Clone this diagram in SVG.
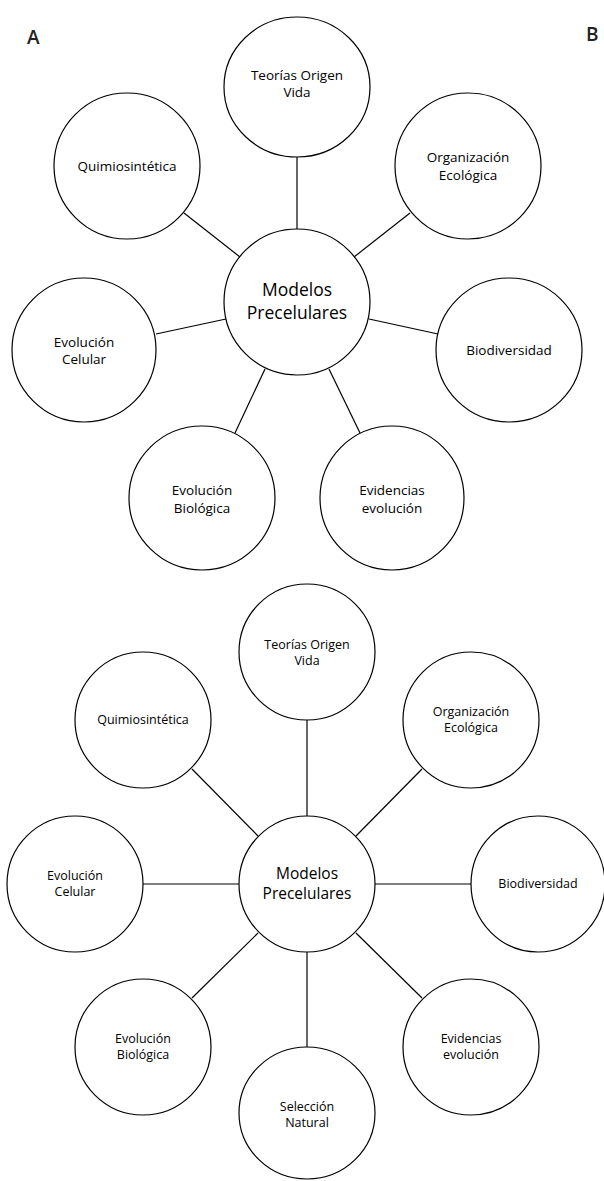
<svg xmlns="http://www.w3.org/2000/svg" width="604" height="1181" viewBox="0 0 604 1181">
  <style>
    .node ellipse { fill: #fff; stroke: #000; stroke-width: 1.2; }
    .lbl { font-family: "Open Sans", "Liberation Sans", sans-serif; font-size: 13.5px; fill: #000; text-anchor: middle; }
    .lblb { font-family: "Open Sans", "Liberation Sans", sans-serif; font-size: 12.5px; fill: #000; text-anchor: middle; }
    .hub { font-family: "Open Sans", "Liberation Sans", sans-serif; font-size: 17.5px; fill: #000; text-anchor: middle; }
    .hubb { font-family: "Open Sans", "Liberation Sans", sans-serif; font-size: 15.5px; fill: #000; text-anchor: middle; }
    .tag { font-family: "Open Sans", "Liberation Sans", sans-serif; font-size: 19px; font-weight: 600; fill: #222; }
    .edges line { stroke: #000; stroke-width: 1.2; }
  </style>

  <text class="tag" x="27" y="44">A</text>
  <text class="tag" x="586" y="41">B</text>

  <!-- Diagram A connectors -->
  <g id="edges-a" class="edges">
    <line x1="297" y1="157" x2="297" y2="229"/>
    <line x1="184" y1="213" x2="240" y2="257"/>
    <line x1="410" y1="213" x2="354" y2="257"/>
    <line x1="156" y1="334" x2="226" y2="319"/>
    <line x1="369" y1="319" x2="438" y2="334"/>
    <line x1="265" y1="369" x2="235" y2="433"/>
    <line x1="329" y1="369" x2="360" y2="433"/>
  </g>

  <!-- Diagram A nodes -->
  <g id="a-teorias" class="node">
    <ellipse cx="297" cy="87" rx="73" ry="70"/>
    <text class="lbl" x="297" y="80">Teorías Origen</text>
    <text class="lbl" x="297" y="97">Vida</text>
  </g>
  <g id="a-quimio" class="node">
    <ellipse cx="127" cy="166" rx="73" ry="73"/>
    <text class="lbl" x="127" y="171">Quimiosintética</text>
  </g>
  <g id="a-organizacion" class="node">
    <ellipse cx="468" cy="166" rx="73" ry="73"/>
    <text class="lbl" x="468" y="162">Organización</text>
    <text class="lbl" x="468" y="180">Ecológica</text>
  </g>
  <g id="a-modelos" class="node">
    <ellipse cx="297" cy="302" rx="73" ry="73"/>
    <text class="hub" x="297" y="296">Modelos</text>
    <text class="hub" x="297" y="319">Precelulares</text>
  </g>
  <g id="a-evol-celular" class="node">
    <ellipse cx="84" cy="350" rx="72" ry="72"/>
    <text class="lbl" x="84" y="347">Evolución</text>
    <text class="lbl" x="84" y="364">Celular</text>
  </g>
  <g id="a-biodiversidad" class="node">
    <ellipse cx="509" cy="350" rx="73" ry="72"/>
    <text class="lbl" x="509" y="355">Biodiversidad</text>
  </g>
  <g id="a-evol-biologica" class="node">
    <ellipse cx="202" cy="498" rx="73" ry="72"/>
    <text class="lbl" x="202" y="495">Evolución</text>
    <text class="lbl" x="202" y="513">Biológica</text>
  </g>
  <g id="a-evidencias" class="node">
    <ellipse cx="392" cy="498" rx="72" ry="72"/>
    <text class="lbl" x="392" y="495">Evidencias</text>
    <text class="lbl" x="392" y="513">evolución</text>
  </g>

  <!-- Diagram B connectors -->
  <g id="edges-b" class="edges">
    <line x1="307" y1="720" x2="307" y2="816"/>
    <line x1="192" y1="769" x2="258" y2="836"/>
    <line x1="422" y1="769" x2="356" y2="836"/>
    <line x1="143" y1="884" x2="239" y2="884"/>
    <line x1="375" y1="884" x2="471" y2="884"/>
    <line x1="258" y1="933" x2="192" y2="998"/>
    <line x1="356" y1="933" x2="422" y2="998"/>
    <line x1="307" y1="952" x2="307" y2="1047"/>
  </g>

  <!-- Diagram B nodes -->
  <g id="b-teorias" class="node">
    <ellipse cx="307" cy="652" rx="68" ry="68"/>
    <text class="lblb" x="307" y="649">Teorías Origen</text>
    <text class="lblb" x="307" y="665">Vida</text>
  </g>
  <g id="b-quimio" class="node">
    <ellipse cx="143" cy="720" rx="68" ry="68"/>
    <text class="lblb" x="143" y="724">Quimiosintética</text>
  </g>
  <g id="b-organizacion" class="node">
    <ellipse cx="471" cy="720" rx="68" ry="68"/>
    <text class="lblb" x="471" y="716">Organización</text>
    <text class="lblb" x="471" y="732">Ecológica</text>
  </g>
  <g id="b-modelos" class="node">
    <ellipse cx="307" cy="884" rx="68" ry="68"/>
    <text class="hubb" x="307" y="879">Modelos</text>
    <text class="hubb" x="307" y="899">Precelulares</text>
  </g>
  <g id="b-evol-celular" class="node">
    <ellipse cx="75" cy="884" rx="68" ry="68"/>
    <text class="lblb" x="75" y="880">Evolución</text>
    <text class="lblb" x="75" y="896">Celular</text>
  </g>
  <g id="b-biodiversidad" class="node">
    <ellipse cx="538" cy="884" rx="67" ry="68"/>
    <text class="lblb" x="538" y="888">Biodiversidad</text>
  </g>
  <g id="b-evol-biologica" class="node">
    <ellipse cx="143" cy="1047" rx="68" ry="68"/>
    <text class="lblb" x="143" y="1043">Evolución</text>
    <text class="lblb" x="143" y="1059">Biológica</text>
  </g>
  <g id="b-evidencias" class="node">
    <ellipse cx="471" cy="1047" rx="68" ry="68"/>
    <text class="lblb" x="471" y="1043">Evidencias</text>
    <text class="lblb" x="471" y="1059">evolución</text>
  </g>
  <g id="b-seleccion" class="node">
    <ellipse cx="307" cy="1113" rx="68" ry="66"/>
    <text class="lblb" x="307" y="1111">Selección</text>
    <text class="lblb" x="307" y="1127">Natural</text>
  </g>
</svg>
